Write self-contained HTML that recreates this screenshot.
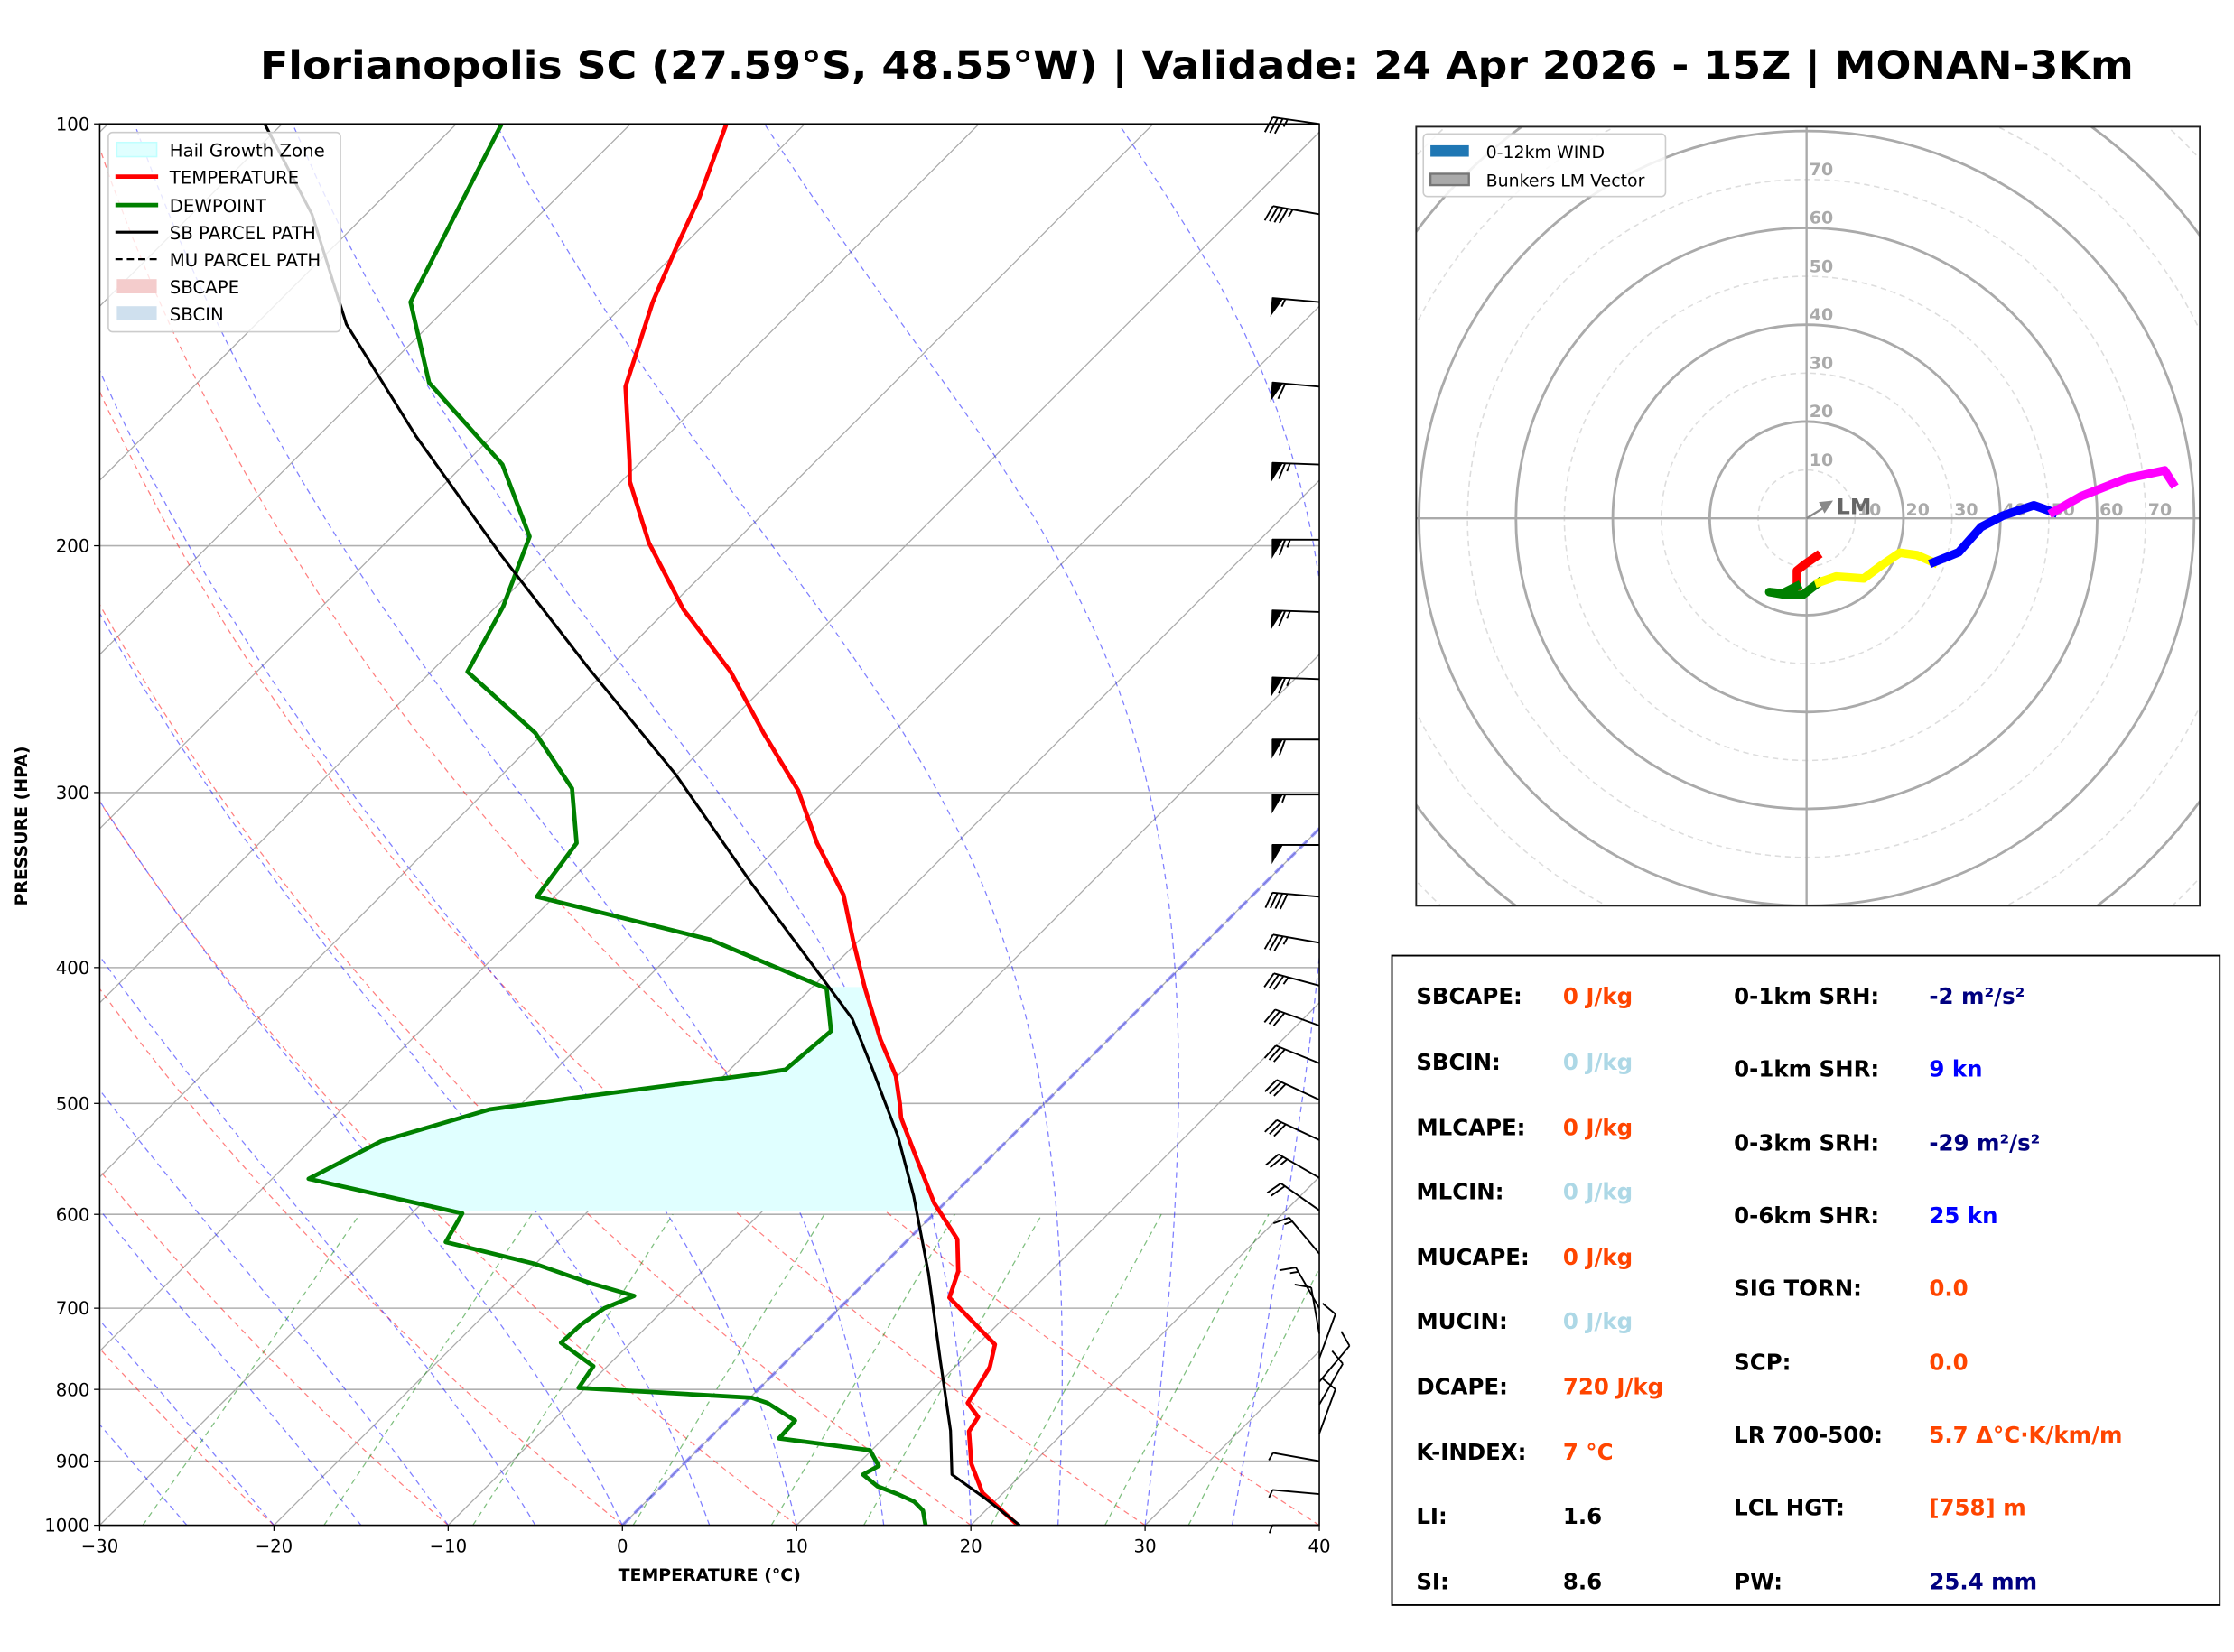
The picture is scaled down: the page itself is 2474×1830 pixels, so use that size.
<!DOCTYPE html>
<html><head><meta charset="utf-8"><title>Skew-T Florianopolis</title>
<style>
html,body{margin:0;padding:0;background:#fff;}
svg{display:block;font-family:"DejaVu Sans","Liberation Sans",sans-serif;}
</style></head>
<body>
<svg id="fig" xmlns="http://www.w3.org/2000/svg" width="2474" height="1830" viewBox="0 0 1568 1160" preserveAspectRatio="none">
<rect x="0" y="0" width="1568" height="1160" fill="#fff"/>
<text x="840" y="55" text-anchor="middle" font-size="27" font-weight="bold" textLength="1315" lengthAdjust="spacingAndGlyphs">Florianopolis SC (27.59°S, 48.55°W) | Validade: 24 Apr 2026 - 15Z | MONAN-3Km</text>
<defs>
<clipPath id="skewClip"><rect x="70" y="87" width="856" height="984"/></clipPath>
<clipPath id="hodoClip"><rect x="994" y="89" width="550" height="547"/></clipPath>
</defs>
<g id="skewBg" clip-path="url(#skewClip)"></g>
<g id="skewData" clip-path="url(#skewClip)"></g>
<g id="barbs"></g>
<rect x="70" y="87" width="856" height="984" fill="none" stroke="#000" stroke-width="1"/>
<g id="skewAxes"></g>
<text x="498" y="1110" text-anchor="middle" font-size="12" font-weight="bold">TEMPERATURE (°C)</text>
<text transform="translate(19,580) rotate(-90)" text-anchor="middle" font-size="12" font-weight="bold">PRESSURE (HPA)</text>

<g>
<rect x="76" y="93" width="163" height="140" rx="3" fill="#fff" fill-opacity="0.8" stroke="#ccc" stroke-width="1"/>
<rect x="82" y="100" width="28" height="10" fill="#e0ffff" stroke="#c0ffff"/>
<text x="119" y="110" font-size="12.5">Hail Growth Zone</text>
<line x1="81" y1="124" x2="111" y2="124" stroke="red" stroke-width="3"/>
<text x="119" y="129" font-size="12.5">TEMPERATURE</text>
<line x1="81" y1="144" x2="111" y2="144" stroke="green" stroke-width="3"/>
<text x="119" y="149" font-size="12.5">DEWPOINT</text>
<line x1="81" y1="163" x2="111" y2="163" stroke="#000" stroke-width="2"/>
<text x="119" y="168" font-size="12.5">SB PARCEL PATH</text>
<line x1="81" y1="182" x2="111" y2="182" stroke="#000" stroke-width="1.5" stroke-dasharray="5,3"/>
<text x="119" y="187" font-size="12.5">MU PARCEL PATH</text>
<rect x="82" y="196" width="28" height="10" fill="#f4cccc"/>
<text x="119" y="206" font-size="12.5">SBCAPE</text>
<rect x="82" y="215" width="28" height="10" fill="#cfe0ee"/>
<text x="119" y="225" font-size="12.5">SBCIN</text>
</g>

<g id="hodo">
<g id="hodoInner" clip-path="url(#hodoClip)"></g>
<rect x="994" y="89" width="550" height="547" fill="none" stroke="#222" stroke-width="1.2"/>
<rect x="999" y="94" width="170" height="44" rx="3" fill="#fff" fill-opacity="0.85" stroke="#ccc"/>
<rect x="1004" y="102" width="27" height="8" fill="#1f77b4"/>
<text x="1043" y="111" font-size="12">0-12km WIND</text>
<rect x="1004" y="122" width="27" height="8" fill="#aaa" stroke="#777" stroke-width="1.5"/>
<text x="1043" y="131" font-size="12">Bunkers LM Vector</text>
</g>

<g font-size="15.5" font-weight="bold">
<rect x="977" y="671" width="581" height="456" fill="#fff" stroke="#000" stroke-width="1.2"/>
<text x="994" y="705">SBCAPE:</text><text x="1097" y="705" fill="#ff4500">0 J/kg</text>
<text x="994" y="751">SBCIN:</text><text x="1097" y="751" fill="#add8e6">0 J/kg</text>
<text x="994" y="797">MLCAPE:</text><text x="1097" y="797" fill="#ff4500">0 J/kg</text>
<text x="994" y="842">MLCIN:</text><text x="1097" y="842" fill="#add8e6">0 J/kg</text>
<text x="994" y="888">MUCAPE:</text><text x="1097" y="888" fill="#ff4500">0 J/kg</text>
<text x="994" y="933">MUCIN:</text><text x="1097" y="933" fill="#add8e6">0 J/kg</text>
<text x="994" y="979">DCAPE:</text><text x="1097" y="979" fill="#ff4500">720 J/kg</text>
<text x="994" y="1025">K-INDEX:</text><text x="1097" y="1025" fill="#ff4500">7 °C</text>
<text x="994" y="1070">LI:</text><text x="1097" y="1070">1.6</text>
<text x="994" y="1116">SI:</text><text x="1097" y="1116">8.6</text>
<text x="1217" y="705">0-1km SRH:</text><text x="1354" y="705" fill="#000080">-2 m²/s²</text>
<text x="1217" y="756">0-1km SHR:</text><text x="1354" y="756" fill="#0000ff">9 kn</text>
<text x="1217" y="808">0-3km SRH:</text><text x="1354" y="808" fill="#000080">-29 m²/s²</text>
<text x="1217" y="859">0-6km SHR:</text><text x="1354" y="859" fill="#0000ff">25 kn</text>
<text x="1217" y="910">SIG TORN:</text><text x="1354" y="910" fill="#ff4500">0.0</text>
<text x="1217" y="962">SCP:</text><text x="1354" y="962" fill="#ff4500">0.0</text>
<text x="1217" y="1013">LR 700-500:</text><text x="1354" y="1013" fill="#ff4500">5.7 Δ°C·K/km/m</text>
<text x="1217" y="1064">LCL HGT:</text><text x="1354" y="1064" fill="#ff4500">[758] m</text>
<text x="1217" y="1116">PW:</text><text x="1354" y="1116" fill="#000080">25.4 mm</text>
</g>
</svg>
<script>
// ---- Sounding data ----
const tempP = [1000,948,904,857,837,818,799,771,743,688,659,625,589,563,537,512,500,478,450,413,382,355,326,299,272,246,222,199,180,174,154,134,123,113,100];
const tempT = [22.7,18.8,16.5,14.5,14.2,12.8,12.5,12.0,11.0,5.7,4.7,2.8,-0.6,-2.8,-5.1,-7.4,-8.3,-10.1,-13.1,-17.0,-20.4,-23.5,-28.0,-32.1,-37.4,-42.8,-49.1,-54.9,-59.5,-60.7,-65.2,-68.5,-70.2,-71.8,-74.5];
const dewP = [1000,976,962,950,938,920,907,884,867,842,818,811,798,770,741,719,700,686,672,651,628,599,566,532,505,494,476,473,444,414,382,356,326,298,272,246,221,197,175,153,134,100];
const dewT = [17.4,16.4,15.4,14.0,12.4,10.9,11.3,9.9,4.0,3.9,1.3,0.1,-10.4,-10.8,-14.0,-13.9,-13.5,-12.5,-15.7,-20.0,-26.4,-27.1,-37.9,-35.9,-31.5,-26.7,-18.0,-16.8,-16.4,-19.1,-28.6,-41.0,-41.8,-45.2,-50.5,-57.9,-59.6,-62.1,-67.8,-76.7,-82.4,-87.4];
const parcelP = [1000,957,920,856,765,661,582,528,472,435,398,348,291,244,203,167,139,116,100];
const parcelT = [22.8,19.3,16.0,13.4,8.9,3.1,-2.2,-6.5,-11.9,-15.9,-21.3,-29.5,-40.1,-51.3,-62.7,-74.4,-84.8,-93.1,-101.0];
const hailTop = 413, hailBot = 597;
const windP = [100,116,134,154,175,198,223,249,275,301,327,356,384,412,440,468,497,531,565,596,640,700,730,760,790,820,860,900,950,1000];
const windSpd = [35,45,55,60,65,65,65,65,60,55,50,40,35,35,30,30,30,30,25,20,15,15,10,10,10,10,10,5,5,5];
const windDir = [278,280,275,275,272,270,272,272,270,270,270,275,280,285,290,292,295,295,300,305,320,330,350,20,40,30,20,280,275,270];
// ---- Hodograph data (knots) ----
const hodoRedU = [2.1,-0.5,-2.0,-2.0];
const hodoRedV = [-7.8,-9.6,-10.8,-14.0];
const hodoGreenU = [-2.0,-5.0,-7.7,-4.3,-0.8,2.6];
const hodoGreenV = [-14.0,-15.5,-15.2,-15.8,-15.8,-13.2];
const hodoYellowU = [2.6,6.1,11.8,15.3,19.3,22.8,26.2];
const hodoYellowV = [-13.2,-12.0,-12.4,-9.8,-7.1,-7.6,-9.1];
const hodoBlueU = [26.2,31.4,36.0,40.6,46.9,50.9];
const hodoBlueV = [-9.1,-7.0,-1.8,0.6,2.7,1.3];
const hodoMagU = [50.9,56.7,65.9,73.9,75.6];
const hodoMagV = [1.3,4.6,8.2,9.9,7.3];
const bunkersU = [4.0], bunkersV = [2.5];
const xTicks = [-30,-20,-10,0,10,20,30,40];
const yTicks = [100,200,300,400,500,600,700,800,900,1000];
const hodoRings = [10,20,30,40,50,60,70,80,90,100,110];

const NS = "http://www.w3.org/2000/svg";
const L=70,R=926,T=87,B=1071, DEC=984, SC=856/70;
function yP(p){return B - DEC*Math.log10(1000/p);}
function xTP(t,p){return L + (t+30)*SC + (B - yP(p));}
function mk(tag, attrs, parent){const e=document.createElementNS(NS,tag);for(const k in attrs)e.setAttribute(k,attrs[k]);parent.appendChild(e);return e;}
function pathFrom(ts,ps){let d="";for(let i=0;i<ts.length;i++){d+=(i?"L":"M")+xTP(ts[i],ps[i]).toFixed(2)+","+yP(ps[i]).toFixed(2);}return d;}
function interpT(ps,ts,p){for(let i=0;i<ps.length-1;i++){if(ps[i]>=p&&ps[i+1]<=p){const f=Math.log(ps[i]/p)/Math.log(ps[i]/ps[i+1]);return ts[i]+f*(ts[i+1]-ts[i]);}}return ts[0];}

const bg=document.getElementById('skewBg');
for(const p of yTicks){const ln=mk('line',{x1:L,x2:R,y1:yP(p),y2:yP(p),stroke:'#b0b0b0','stroke-width':1},bg);

}
for(let t=-140;t<=40;t+=10){const ln=mk('line',{x1:xTP(t,1000),y1:yP(1000),x2:xTP(t,100),y2:yP(100),stroke:'#aaa','stroke-width':0.8},bg);

}
const levs=[];for(let p=1000;p>=100;p-=10)levs.push(p);
for(let t0=-30;t0<=40;t0+=10){const th=t0+273.15;const ts=levs.map(p=>th*Math.pow(p/1000,0.2857)-273.15);
const e=mk('path',{d:pathFrom(ts,levs),fill:'none',stroke:'#ff0000','stroke-opacity':0.5,'stroke-width':0.8,'stroke-dasharray':'4,3'},bg);

}
function es(tc){return 6.112*Math.exp(17.67*tc/(tc+243.5));}
for(let t0=-30;t0<=40;t0+=5){let Tk=t0+273.15;const ts=[],ps=[];let p=1000;
while(p>=100){ts.push(Tk-273.15);ps.push(p);
 for(let s=0;s<5;s++){const pp=p-1;const e=es(Tk-273.15);const rs=0.622*e/(pp-e);
 const dTdlnp=(287*Tk+2.5e6*rs)/(1004+2.5e6*2.5e6*rs*0.622/(287*Tk*Tk));Tk+=dTdlnp*Math.log((p-2)/p);p-=2;}}
const e=mk('path',{d:pathFrom(ts,ps),fill:'none',stroke:'#0000ff','stroke-opacity':0.5,'stroke-width':0.8,'stroke-dasharray':'4,3'},bg);

}
for(const w of [0.0004,0.001,0.002,0.004,0.007,0.01,0.016,0.024,0.032]){const ps=[1000,600];const ts=ps.map(p=>{const e=w*p/(0.622+w);const l=Math.log(e/6.112);return 243.5*l/(17.67-l);});
const e=mk('path',{d:pathFrom(ts,ps),fill:'none',stroke:'#008000','stroke-opacity':0.5,'stroke-width':0.8,'stroke-dasharray':'4,3'},bg);

}
const fz=mk('line',{x1:xTP(0,1000),y1:yP(1000),x2:xTP(0,100),y2:yP(100),stroke:'#4444ff','stroke-opacity':0.5,'stroke-width':2.2,'stroke-dasharray':'8,4'},bg);



const sd=document.getElementById('skewData');
{const tp=[hailBot],tt=[interpT(tempP,tempT,hailBot)];
 for(let i=0;i<tempP.length;i++)if(tempP[i]<hailBot&&tempP[i]>hailTop){tp.push(tempP[i]);tt.push(tempT[i]);}
 tp.push(hailTop);tt.push(interpT(tempP,tempT,hailTop));
 const dp=[hailTop],dt=[interpT(dewP,dewT,hailTop)];
 for(let i=dewP.length-1;i>=0;i--)if(dewP[i]<hailBot&&dewP[i]>hailTop){dp.push(dewP[i]);dt.push(dewT[i]);}
 dp.push(hailBot);dt.push(interpT(dewP,dewT,hailBot));
 let d=pathFrom(tt,tp);for(let i=0;i<dp.length;i++)d+="L"+xTP(dt[i],dp[i]).toFixed(2)+","+yP(dp[i]).toFixed(2);d+="Z";
 const h=mk('path',{d:d,fill:'#e0ffff',stroke:'none'},sd);
 
 }
const tl=mk('path',{d:pathFrom(tempT,tempP),fill:'none',stroke:'red','stroke-width':3,'stroke-linejoin':'round'},sd);


const dl=mk('path',{d:pathFrom(dewT,dewP),fill:'none',stroke:'green','stroke-width':3,'stroke-linejoin':'round'},sd);


const pl=mk('path',{d:pathFrom(parcelT,parcelP),fill:'none',stroke:'#000','stroke-width':2,'stroke-linejoin':'round'},sd);



const ax=document.getElementById('skewAxes');
for(const t of xTicks){const x=L+(t+30)*SC;
 const tk=mk('line',{x1:x,x2:x,y1:B,y2:B+4,stroke:'#000','stroke-width':0.8},ax);
 
 
 const tx=mk('text',{x:x,y:B+19,'text-anchor':'middle','font-size':12.5},ax);tx.textContent=(t<0?'\u2212'+(-t):String(t));
 
 }
for(const p of yTicks){const y=yP(p);
 const tk=mk('line',{x1:L-4,x2:L,y1:y,y2:y,stroke:'#000','stroke-width':0.8},ax);
 
 
 const tx=mk('text',{x:L-7,y:y+4.5,'text-anchor':'end','font-size':12.5},ax);tx.textContent=String(p);
 
 }

const bb=document.getElementById('barbs');
for(let i=0;i<windP.length;i++){const y=yP(windP[i]),x=R;const d=windDir[i]*Math.PI/180;const Ls=33;
 const ux=Math.sin(d),uy=-Math.cos(d);const nx=uy,ny=-ux;
 let s=windSpd[i];let dd="M"+x+","+y+"L"+(x+ux*Ls).toFixed(1)+","+(y+uy*Ls).toFixed(1);
 let pos=Ls;let fillD="";
 while(s>=50){const ax1=x+ux*pos,ay1=y+uy*pos,ax2=x+ux*(pos-7),ay2=y+uy*(pos-7);
  fillD+="M"+ax1.toFixed(1)+","+ay1.toFixed(1)+"L"+(ax1+nx*12).toFixed(1)+","+(ay1+ny*12).toFixed(1)+"L"+ax2.toFixed(1)+","+ay2.toFixed(1)+"Z";pos-=9;s-=50;}
 while(s>=10){const px=x+ux*pos,py=y+uy*pos;dd+="M"+px.toFixed(1)+","+py.toFixed(1)+"L"+(px+nx*11+ux*4).toFixed(1)+","+(py+ny*11+uy*4).toFixed(1);pos-=3.5;s-=10;}
 if(s>=5){const px=x+ux*pos,py=y+uy*pos;dd+="M"+px.toFixed(1)+","+py.toFixed(1)+"L"+(px+nx*5.5+ux*2).toFixed(1)+","+(py+ny*5.5+uy*2).toFixed(1);}
 const g=mk('path',{d:dd,fill:'none',stroke:'#000','stroke-width':1.2},bb);
 
 
 if(fillD){const f=mk('path',{d:fillD,fill:'#000',stroke:'#000','stroke-width':0.8},bb);
 
 }}

const hi=document.getElementById('hodoInner');
const CX=1268,CY=364,HS=3.4;
for(const r of hodoRings){const solid=(r%20===0);
 const c=mk('circle',{cx:CX,cy:CY,r:r*HS,fill:'none',stroke:solid?'#aaa':'#ddd','stroke-width':solid?1.8:1,'stroke-dasharray':solid?'none':'4,3'},hi);
 
 }
{const a1=mk('line',{x1:994,x2:1544,y1:CY,y2:CY,stroke:'#aaa','stroke-width':1.5},hi);


const a2=mk('line',{x1:CX,x2:CX,y1:89,y2:636,stroke:'#aaa','stroke-width':1.5},hi);

}
for(let r=10;r<=70;r+=10){
 const t1=mk('text',{x:CX+2,y:CY-r*HS-3,'font-size':12,'font-weight':'bold',fill:'#aaa'},hi);t1.textContent=String(r);
 
 
 const t2=mk('text',{x:CX+r*HS+10,y:CY-2,'text-anchor':'middle','font-size':12,'font-weight':'bold',fill:'#aaa'},hi);t2.textContent=String(r);
 
 }
function hodoPath(us,vs){let d="";for(let i=0;i<us.length;i++)d+=(i?"L":"M")+(CX+us[i]*HS).toFixed(1)+","+(CY-vs[i]*HS).toFixed(1);return d;}
const segs=[[hodoRedU,hodoRedV,'red','hodo-segment-red'],[hodoGreenU,hodoGreenV,'green','hodo-segment-green'],[hodoYellowU,hodoYellowV,'yellow','hodo-segment-yellow'],[hodoBlueU,hodoBlueV,'blue','hodo-segment-blue'],[hodoMagU,hodoMagV,'magenta','hodo-segment-magenta']];
for(const s of segs){const e=mk('path',{d:hodoPath(s[0],s[1]),fill:'none',stroke:s[2],'stroke-width':6,'stroke-linejoin':'round','stroke-linecap':'square'},hi);
 
 }
{const bx=CX+bunkersU[0]*HS,by=CY-bunkersV[0]*HS;
 const ar=mk('path',{d:"M"+CX+","+CY+"L"+bx.toFixed(1)+","+by.toFixed(1),stroke:'#888','stroke-width':1.5,fill:'none'},hi);
 
 
 const hd=mk('path',{d:"M"+(bx+5)+","+(by-4)+"L"+(bx-5)+","+(by-3)+"L"+(bx-1)+","+(by+5)+"Z",fill:'#888'},hi);
 
 
 const lt=mk('text',{x:CX+21,y:CY-3,'font-size':15,'font-weight':'bold',fill:'#666'},hi);lt.textContent='LM';
 
 }
</script>
</body></html>
